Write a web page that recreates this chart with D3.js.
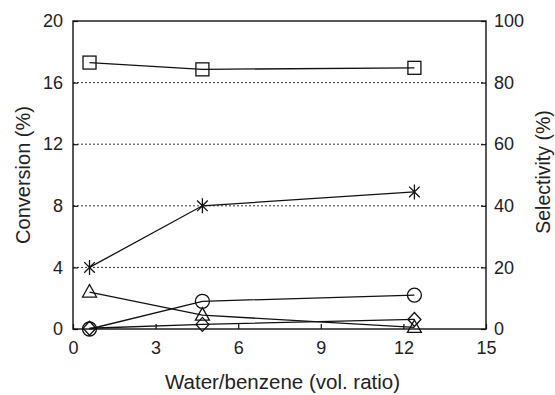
<!DOCTYPE html>
<html>
<head>
<meta charset="utf-8">
<script src="https://cdn.jsdelivr.net/npm/d3@7"></script>
<style>
  html, body { margin: 0; padding: 0; background: #fff; }
  svg text { font-family: "Liberation Sans", Arial, Helvetica, sans-serif; fill: #222; }
</style>
</head>
<body>
<svg id="chart" width="555" height="395"></svg>
<script>
// Water/benzene volume ratio for each run
const ratio = [0.6, 4.7, 12.4];

// Series on the right (selectivity, %) and left (conversion, %) axes
const squareSel   = [86.5, 84.3, 84.8];
const starConv    = [4.0, 8.0, 8.9];
const circleConv  = [0.0, 1.8, 2.2];
const triangleConv = [2.4, 0.9, 0.1];
const diamondConv = [0.05, 0.3, 0.62];

const xTicks = [0, 3, 6, 9, 12, 15];
const leftTicks = [0, 4, 8, 12, 16, 20];
const rightTicks = [0, 20, 40, 60, 80, 100];
const gridValues = [4, 8, 12, 16];

const margin = { left: 73, right: 69, top: 21, bottom: 66 };
const W = 555, H = 395;
const iw = W - margin.left - margin.right;
const ih = H - margin.top - margin.bottom;

const svg = d3.select("#chart");
const g = svg.append("g").attr("transform", `translate(${margin.left},${margin.top})`);

const x = d3.scaleLinear().domain([0, 15]).range([0, iw]);
const yL = d3.scaleLinear().domain([0, 20]).range([ih, 0]);
const yR = d3.scaleLinear().domain([0, 100]).range([ih, 0]);

// dotted horizontal grid
g.append("g").selectAll("line").data(gridValues).join("line")
  .attr("x1", 0).attr("x2", iw)
  .attr("y1", d => yL(d)).attr("y2", d => yL(d))
  .attr("stroke", "#333").attr("stroke-width", 1)
  .attr("stroke-dasharray", "2,2");

// axes with inward ticks
const tickSize = 5;
const ax = g.append("g").attr("transform", `translate(0,${ih})`)
  .call(d3.axisBottom(x).tickValues(xTicks).tickSize(-tickSize).tickPadding(12).tickSizeOuter(0));
const al = g.append("g")
  .call(d3.axisLeft(yL).tickValues(leftTicks).tickSize(-tickSize).tickPadding(10).tickSizeOuter(0));
const ar = g.append("g").attr("transform", `translate(${iw},0)`)
  .call(d3.axisRight(yR).tickValues(rightTicks).tickSize(-tickSize).tickPadding(8).tickSizeOuter(0));

[ax, al, ar].forEach(a => {
  a.select(".domain").remove();
  a.selectAll("line").attr("stroke", "#111").attr("stroke-width", 1.2);
  a.selectAll("text").style("font-size", "18px").attr("fill", "#222");
});

// frame
g.append("rect").attr("x", 0).attr("y", 0).attr("width", iw).attr("height", ih)
  .attr("fill", "none").attr("stroke", "#111").attr("stroke-width", 1.4);

// axis titles
svg.append("text").attr("x", margin.left + iw / 2 + 3).attr("y", 389)
  .attr("text-anchor", "middle").style("font-size", "20.5px")
  .text("Water/benzene (vol. ratio)");
svg.append("text")
  .attr("transform", `translate(30,${margin.top + ih / 2}) rotate(-90)`)
  .attr("text-anchor", "middle").style("font-size", "20px")
  .text("Conversion (%)");
svg.append("text")
  .attr("transform", `translate(550,${margin.top + ih / 2 - 3}) rotate(-90)`)
  .attr("text-anchor", "middle").style("font-size", "19.5px")
  .text("Selectivity (%)");

// marker drawers
const markers = {
  square: (s, px, py) => s.append("rect").attr("x", px - 6.5).attr("y", py - 6.5)
    .attr("width", 13).attr("height", 13),
  circle: (s, px, py) => s.append("circle").attr("cx", px).attr("cy", py).attr("r", 7),
  triangle: (s, px, py) => s.append("path")
    .attr("d", `M${px},${py - 7.5}L${px + 7},${py + 5}L${px - 7},${py + 5}Z`),
  diamond: (s, px, py) => s.append("path")
    .attr("d", `M${px},${py - 7}L${px + 6.5},${py}L${px},${py + 7}L${px - 6.5},${py}Z`),
  star: (s, px, py) => {
    const r = 7.5, dx = r * Math.cos(Math.PI / 4), dy = r * Math.sin(Math.PI / 4);
    return s.append("path")
      .attr("d", `M${px},${py - r}L${px},${py + r}M${px - dx},${py - dy}L${px + dx},${py + dy}M${px - dx},${py + dy}L${px + dx},${py - dy}`);
  }
};

const series = [
  { values: triangleConv, y: yL, shape: "triangle" },
  { values: diamondConv, y: yL, shape: "diamond" },
  { values: circleConv, y: yL, shape: "circle" },
  { values: starConv, y: yL, shape: "star" },
  { values: squareSel, y: yR, shape: "square" }
];

series.forEach(sr => {
  const pts = ratio.map((r, i) => [x(r), sr.y(sr.values[i])]);
  g.append("path").attr("d", d3.line()(pts))
    .attr("fill", "none").attr("stroke", "#111").attr("stroke-width", 1.3);
  const mg = g.append("g").attr("fill", "none").attr("stroke", "#111").attr("stroke-width", 1.3);
  pts.forEach(p => markers[sr.shape](mg, p[0], p[1]));
});
</script>
</body>
</html>
